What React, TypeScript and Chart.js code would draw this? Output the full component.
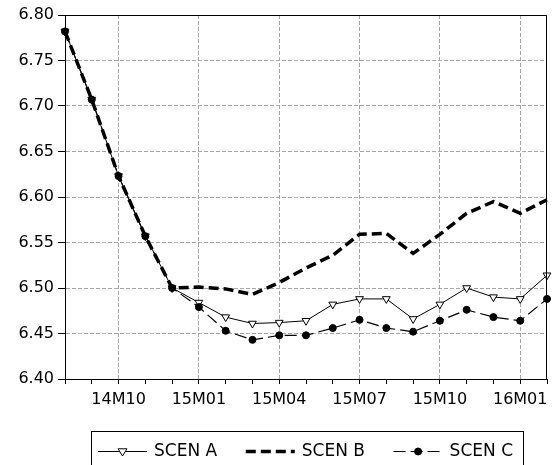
import React, { useEffect, useRef } from 'react';
import { Chart, registerables } from 'chart.js';

Chart.register(...registerables);

const months = ['14M08', '14M09', '14M10', '14M11', '14M12', '15M01', '15M02', '15M03', '15M04', '15M05', '15M06', '15M07', '15M08', '15M09', '15M10', '15M11', '15M12', '16M01', '16M02'];
const labeledMonths = ['14M10', '15M01', '15M04', '15M07', '15M10', '16M01'];
const scenA = [6.782, 6.707, 6.623, 6.557, 6.5, 6.484, 6.468, 6.461, 6.462, 6.464, 6.482, 6.488, 6.488, 6.466, 6.482, 6.5, 6.49, 6.488, 6.514];
const scenB = [6.782, 6.707, 6.623, 6.557, 6.5, 6.501, 6.499, 6.493, 6.506, 6.522, 6.536, 6.559, 6.56, 6.538, 6.559, 6.582, 6.595, 6.582, 6.597];
const scenC = [6.782, 6.707, 6.623, 6.557, 6.5, 6.479, 6.453, 6.443, 6.448, 6.448, 6.456, 6.465, 6.456, 6.452, 6.464, 6.476, 6.468, 6.464, 6.488];
const seriesNames = ['SCEN A', 'SCEN B', 'SCEN C'];
const yTicks = [6.4, 6.45, 6.5, 6.55, 6.6, 6.65, 6.7, 6.75, 6.8];

const FONT = '"DejaVu Sans", sans-serif';
const GRID = '#a8a8a8';

function drawMarker(ctx: CanvasRenderingContext2D, style: string, x: number, y: number, r: number, fill: string) {
  ctx.save();
  ctx.setLineDash([]);
  ctx.lineWidth = 1;
  ctx.strokeStyle = '#000';
  ctx.fillStyle = fill;
  ctx.beginPath();
  if (style === 'triangle') {
    ctx.moveTo(x - r, y - r * 0.6);
    ctx.lineTo(x + r, y - r * 0.6);
    ctx.lineTo(x, y + r);
    ctx.closePath();
  } else {
    ctx.arc(x, y, r, 0, Math.PI * 2);
  }
  ctx.fill();
  ctx.stroke();
  ctx.restore();
}

const framePlugin = {
  id: 'frame',
  afterDraw(chart: any) {
    const { ctx, chartArea } = chart;
    const { left, right, top, bottom } = chartArea;
    ctx.save();
    ctx.strokeStyle = '#000';
    ctx.lineWidth = 1;
    ctx.setLineDash([]);
    ctx.beginPath();
    ctx.moveTo(Math.round(left) + 0.5, Math.round(top) + 0.5);
    ctx.lineTo(Math.round(right) - 0.5, Math.round(top) + 0.5);
    ctx.lineTo(Math.round(right) - 0.5, Math.round(bottom) + 0.5);
    ctx.stroke();
    ctx.restore();
  },
};

const legendPlugin = {
  id: 'customLegend',
  afterDraw(chart: any) {
    const { ctx } = chart;
    const datasets = chart.data.datasets;
    ctx.save();
    ctx.font = '17px ' + FONT;
    ctx.textBaseline = 'middle';
    ctx.fillStyle = '#000';
    const boxL = 91;
    const boxR = 523;
    const boxT = 431;
    const sampleW = 49;
    const gapText = 7;
    const padL = 7;
    const padR = 10;
    const widths = datasets.map((d: any) => ctx.measureText(d.label).width);
    const used = padL + padR + widths.reduce((a: number, w: number) => a + w + sampleW + gapText, 0);
    const gapItem = (boxR - boxL - used) / (datasets.length - 1);
    ctx.strokeStyle = '#000';
    ctx.lineWidth = 1;
    ctx.strokeRect(boxL + 0.5, boxT + 0.5, boxR - boxL, 60);
    const yMid = 451.5;
    let x = boxL + padL;
    datasets.forEach((d: any, i: number) => {
      ctx.save();
      ctx.strokeStyle = d.borderColor;
      ctx.lineWidth = d.borderWidth;
      ctx.setLineDash(d.borderDash || []);
      ctx.beginPath();
      ctx.moveTo(x, yMid);
      ctx.lineTo(x + sampleW, yMid);
      ctx.stroke();
      ctx.restore();
      if (d.pointRadius > 0) {
        drawMarker(ctx, d.pointStyle, x + sampleW / 2, yMid, d.pointRadius, d.pointBackgroundColor);
      }
      x += sampleW + gapText;
      ctx.fillStyle = '#000';
      ctx.fillText(d.label, x, yMid);
      x += widths[i] + gapItem;
    });
    ctx.restore();
  },
};

export default function App() {
  const ref = useRef<HTMLCanvasElement>(null);

  useEffect(() => {
    if (!ref.current) return;
    Chart.defaults.font.family = FONT;
    Chart.defaults.font.size = 16;
    Chart.defaults.color = '#000';
    const chart = new Chart(ref.current, {
      type: 'line',
      data: {
        labels: months,
        datasets: [
          {
            label: seriesNames[0],
            data: scenA,
            order: 2,
            borderColor: '#000',
            borderWidth: 1,
            pointStyle: 'triangle',
            pointRotation: 180,
            pointRadius: 4.5,
            pointBackgroundColor: '#fff',
            pointBorderColor: '#000',
            pointBorderWidth: 1,
            tension: 0,
          },
          {
            label: seriesNames[1],
            data: scenB,
            order: 1,
            borderColor: '#000',
            borderWidth: 3.5,
            borderDash: [10, 5],
            pointRadius: 0,
            pointBackgroundColor: '#000',
            tension: 0,
          },
          {
            label: seriesNames[2],
            data: scenC,
            order: 0,
            borderColor: '#000',
            borderWidth: 1.2,
            borderDash: [12, 5],
            pointStyle: 'circle',
            pointRadius: 3.5,
            pointBackgroundColor: '#000',
            pointBorderColor: '#000',
            pointBorderWidth: 1,
            tension: 0,
          },
        ],
      },
      options: {
        responsive: false,
        animation: false,
        events: [],
        layout: { padding: { left: 0, right: 4, top: 15, bottom: 50 } },
        plugins: {
          legend: { display: false },
          tooltip: { enabled: false },
        },
        scales: {
          x: {
            type: 'category',
            offset: false,
            afterFit: (scale: any) => {
              scale.height = 36;
            },
            grid: {
              color: (c: any) => (labeledMonths.includes(months[c.index]) ? GRID : 'rgba(0,0,0,0)'),
              tickColor: '#000',
              tickLength: 5,
              lineWidth: 1,
            },
            border: { color: '#000', width: 1, dash: [4, 2] },
            ticks: {
              autoSkip: false,
              maxRotation: 0,
              padding: 6,
              font: { size: 16, family: FONT },
              color: '#000',
              callback: (_v: any, i: number) => (labeledMonths.includes(months[i]) ? months[i] : ''),
            },
          },
          y: {
            min: 6.4,
            max: 6.8,
            afterFit: (scale: any) => {
              scale.width = 65;
            },
            afterBuildTicks: (scale: any) => {
              scale.ticks = yTicks.map((v) => ({ value: v }));
            },
            grid: {
              color: GRID,
              tickColor: '#000',
              tickLength: 7,
              lineWidth: 1,
            },
            border: { color: '#000', width: 1, dash: [4, 2] },
            ticks: {
              padding: 4,
              font: { size: 16, family: FONT },
              color: '#000',
              callback: (v: any) => Number(v).toFixed(2),
            },
          },
        },
      },
      plugins: [framePlugin, legendPlugin],
    });
    return () => chart.destroy();
  }, []);

  return (
    <div style={{ position: 'fixed', left: 0, top: 0, width: 553, height: 465, background: '#fff' }}>
      <canvas ref={ref} width={553} height={465} style={{ display: 'block' }} />
    </div>
  );
}
